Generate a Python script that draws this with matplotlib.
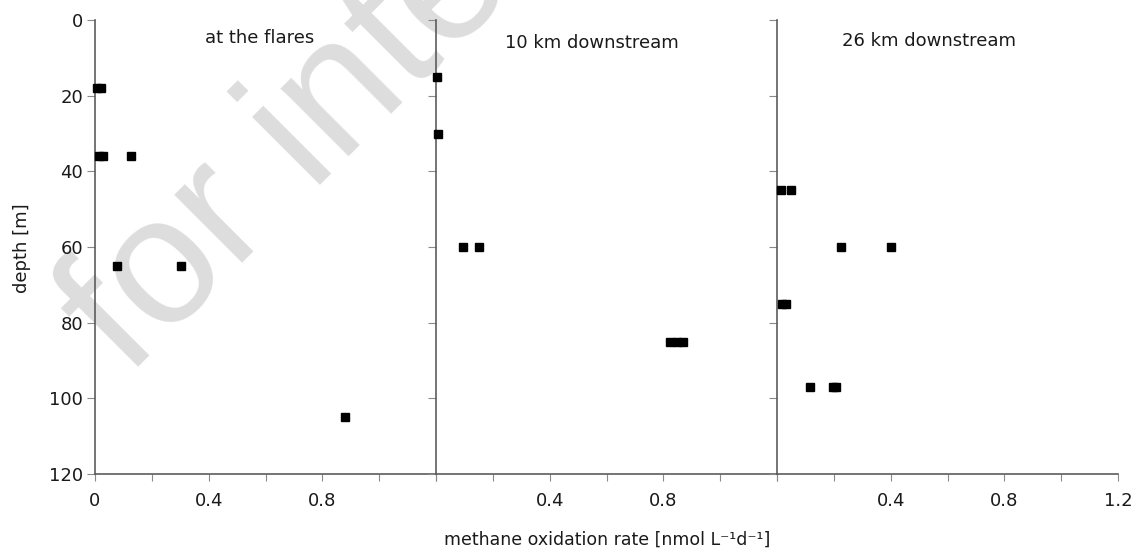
import numpy as np
import matplotlib
matplotlib.use("Agg")
import matplotlib.pyplot as plt

# methane oxidation rate [nmol L-1 d-1] vs depth [m] at three stations
flares_depth = [18, 18, 36, 36, 36, 65, 65, 105]
flares_rate = [0.007, 0.021, 0.014, 0.028, 0.127, 0.078, 0.304, 0.88]

down10_depth = [15, 30, 60, 60, 85, 85, 85]
down10_rate = [0.002, 0.007, 0.094, 0.151, 0.825, 0.848, 0.870]

down26_depth = [45, 45, 60, 60, 75, 75, 97, 97, 97]
down26_rate = [0.013, 0.049, 0.225, 0.401, 0.016, 0.032, 0.117, 0.197, 0.207]

titles = ["at the flares", "10 km downstream", "26 km downstream"]
x_ticks = [0, 0.2, 0.4, 0.6, 0.8, 1.0, 1.2]
x_ticklabels = [
    ["0", "", "0.4", "", "0.8", "", ""],
    ["", "", "0.4", "", "0.8", "", ""],
    ["", "", "0.4", "", "0.8", "", "1.2"],
]
y_ticks = [0, 20, 40, 60, 80, 100, 120]

spine_col = "#5c5c5c"
tick_col = "#8a8a8a"
wm_col = "#dddddd"

W, H = 1136, 551
fig = plt.figure(figsize=(W / 100, H / 100), dpi=100)

# watermark running diagonally over the first panel
fig.text(128 / W, 1 - 378 / H, "for internal use",
         family=["Liberation Sans", "DejaVu Sans"], fontsize=130,
         color=wm_col, rotation=45, rotation_mode="anchor",
         ha="left", va="baseline", zorder=-5)

panels = [
    (flares_rate, flares_depth),
    (down10_rate, down10_depth),
    (down26_rate, down26_depth),
]
title_x = [0.482, 0.457, 0.446]
title_y = [0.949, 0.938, 0.943]

left0, panel_w = 95 / W, 341 / W
bottom, height = 1 - 474 / H, 454 / H

for i, (rate, depth) in enumerate(panels):
    ax = fig.add_axes([left0 + i * panel_w, bottom, panel_w, height])
    ax.set_facecolor("none")
    ax.plot(rate, depth, "s", color="black", ms=6, clip_on=False, zorder=4)

    ax.set_xlim(0, 1.2)
    ax.set_ylim(120, 0)
    for side in ["top", "right"]:
        ax.spines[side].set_visible(False)
    for side in ["left", "bottom"]:
        ax.spines[side].set_color(spine_col)
        ax.spines[side].set_linewidth(1.2)

    ax.set_xticks(x_ticks)
    ax.set_xticklabels(x_ticklabels[i])
    ax.set_yticks(y_ticks)
    if i == 0:
        ax.set_yticklabels([str(v) for v in y_ticks])
    else:
        ax.set_yticklabels([])
    ax.tick_params(axis="x", direction="out", length=5, width=0.8,
                   color=tick_col, labelsize=13, pad=8, labelcolor="#1a1a1a")
    ax.tick_params(axis="y", direction="out", length=5.5, width=0.8,
                   color=tick_col, labelsize=13, pad=3, labelcolor="#1a1a1a")

    ax.text(title_x[i], title_y[i], titles[i], transform=ax.transAxes,
            ha="center", va="baseline", fontsize=13, color="#1a1a1a")

fig.text(22 / W, 1 - 248 / H, "depth [m]", rotation=90, ha="center",
         va="center", fontsize=13, color="#1a1a1a")
fig.text(607 / W, 1 - 540 / H, "methane oxidation rate [nmol L\u207b\u00b9d\u207b\u00b9]",
         ha="center", va="center", fontsize=12.5, color="#1a1a1a")

fig.savefig("out.png", dpi=100)
